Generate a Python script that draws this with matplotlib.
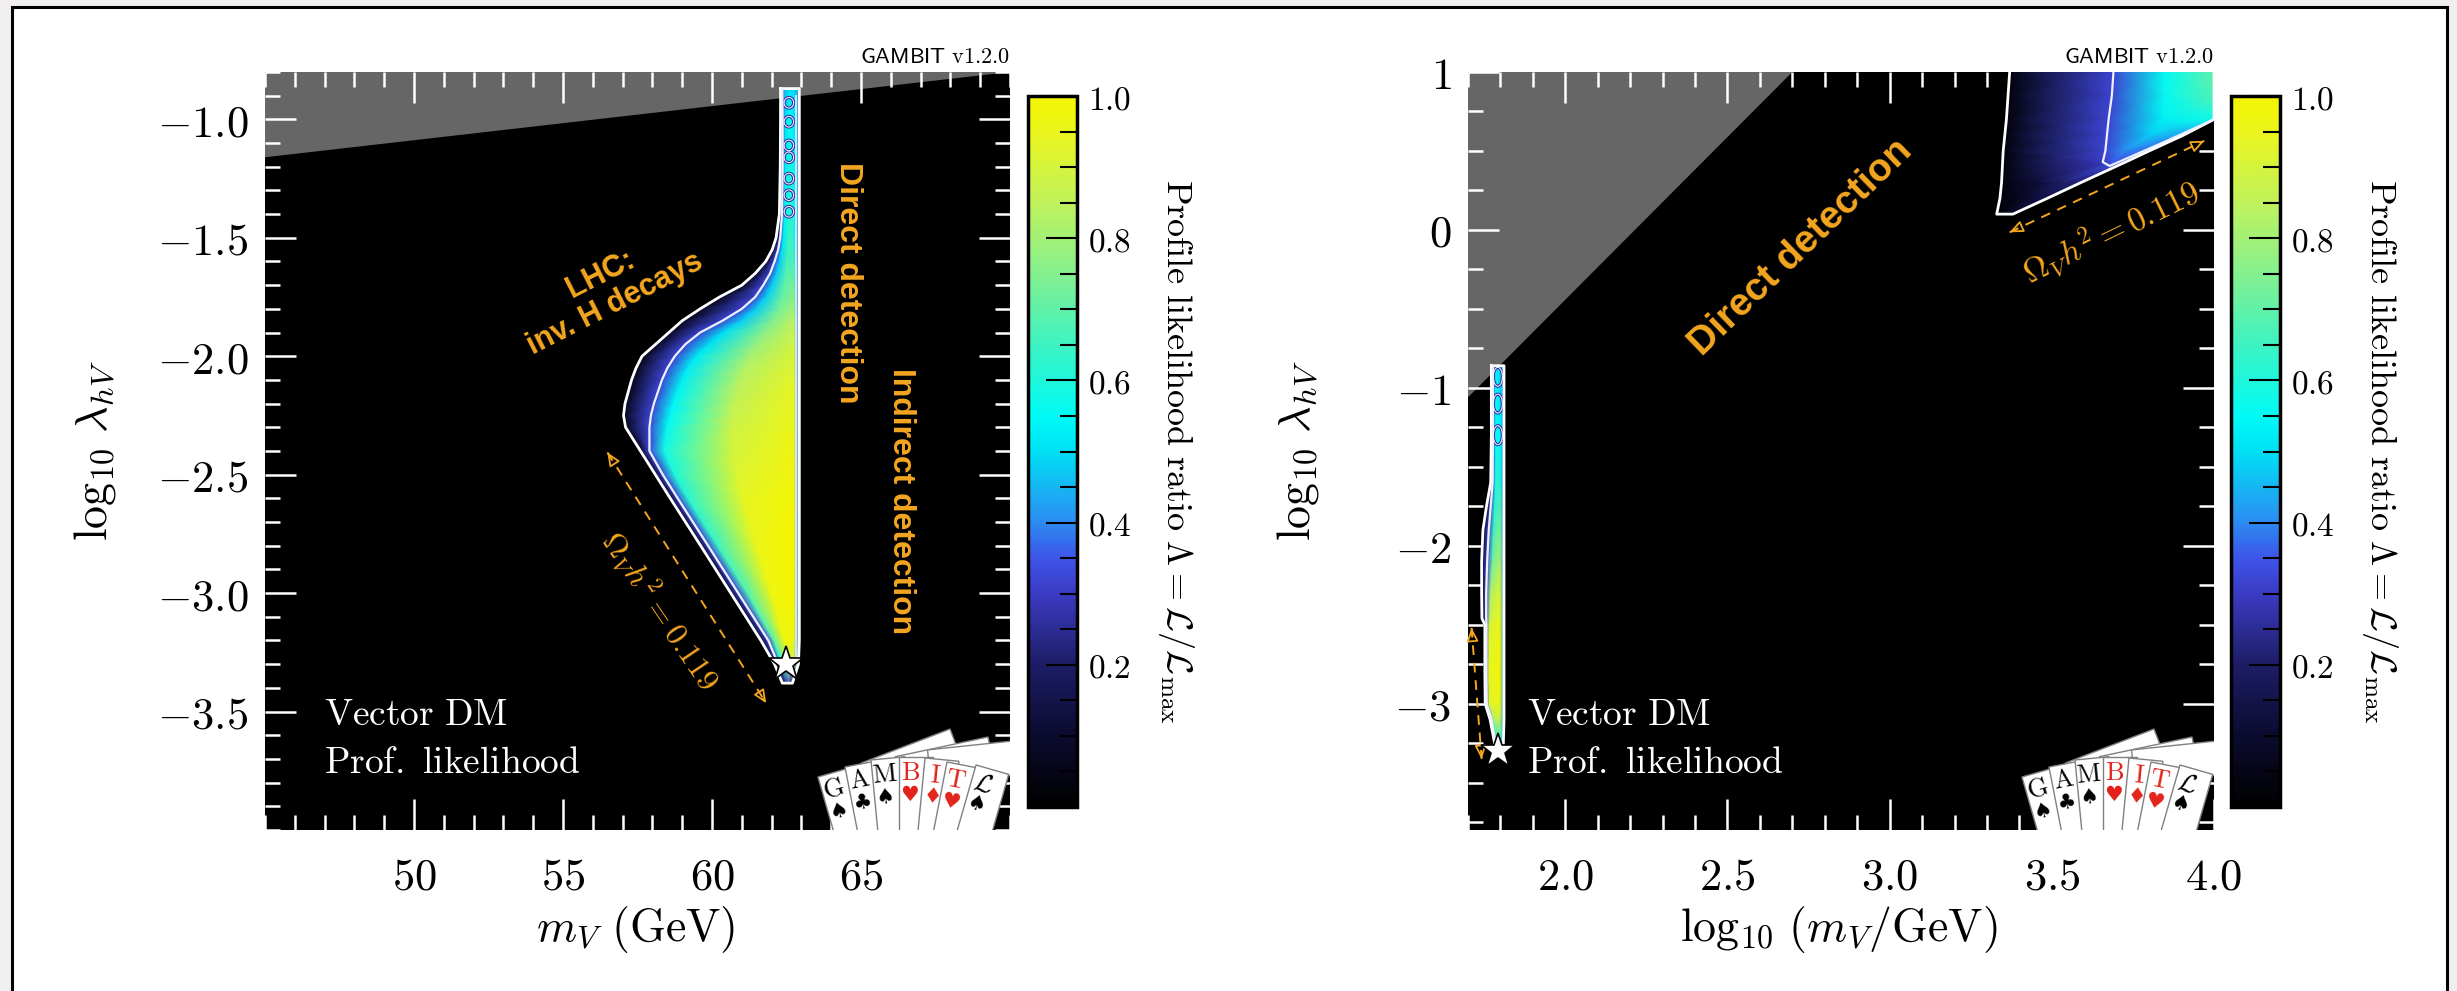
import numpy as np
import matplotlib
matplotlib.use('Agg')
import matplotlib.pyplot as plt
import matplotlib.cm as cm
from matplotlib.colors import LinearSegmentedColormap, Normalize
from matplotlib.patches import Polygon, Rectangle, Ellipse
from matplotlib.ticker import MultipleLocator, FixedLocator, FuncFormatter
from matplotlib.transforms import Affine2D

plt.rcParams['mathtext.fontset'] = 'cm'
plt.rcParams['font.family'] = ['DejaVu Sans']

W, H, DPI = 2457, 991, 100
orange = '#f4a620'

# colour scale of the profile likelihood ratio
cmap_pos = [0.0, 0.1, 0.2, 0.3, 0.35, 0.4, 0.5, 0.55, 0.65, 0.75, 0.85, 0.95, 1.0]
cmap_col = ['#000000', '#0b0b30', '#1d1d66', '#3b3bc4', '#3d55e8', '#2b8cf2',
            '#00e0f4', '#00fbf6', '#3cf3c2', '#84f090', '#bff25c', '#eaf51e', '#f5f500']

# ---- left panel: m_V (GeV) vs log10 lambda_hV ----
left_rows = [-0.87, -1.0, -1.2, -1.4, -1.5, -1.55, -1.6, -1.65, -1.7, -1.75, -1.8, -1.85,
             -1.9, -1.95, -2.0, -2.05, -2.1, -2.2, -2.25, -2.3, -2.4, -2.5, -2.6, -2.8,
             -3.0, -3.2, -3.3, -3.38]
left_mass = [
    [62.30, 62.36, 62.45, 62.60, 62.75, 62.93],
    [62.30, 62.37, 62.46, 62.60, 62.75, 62.93],
    [62.29, 62.37, 62.46, 62.60, 62.75, 62.93],
    [62.26, 62.35, 62.45, 62.60, 62.75, 62.93],
    [62.15, 62.29, 62.40, 62.58, 62.75, 62.93],
    [62.02, 62.22, 62.35, 62.55, 62.75, 62.93],
    [61.80, 62.10, 62.28, 62.52, 62.75, 62.93],
    [61.45, 61.95, 62.18, 62.48, 62.75, 62.93],
    [61.00, 61.72, 62.02, 62.42, 62.75, 62.93],
    [60.25, 61.45, 61.82, 62.35, 62.75, 62.93],
    [59.60, 61.00, 61.50, 62.25, 62.75, 62.93],
    [59.00, 60.35, 61.00, 62.05, 62.75, 62.93],
    [58.55, 59.60, 60.40, 61.80, 62.75, 62.93],
    [58.10, 59.10, 59.90, 61.55, 62.75, 62.93],
    [57.65, 58.75, 59.50, 61.30, 62.75, 62.93],
    [57.45, 58.50, 59.20, 61.10, 62.75, 62.93],
    [57.30, 58.32, 59.00, 60.95, 62.75, 62.93],
    [57.08, 58.05, 58.70, 60.75, 62.75, 62.93],
    [57.03, 57.95, 58.60, 60.70, 62.75, 62.93],
    [57.10, 57.90, 58.50, 60.65, 62.75, 62.93],
    [57.60, 57.90, 58.40, 60.70, 62.75, 62.93],
    [58.10, 58.35, 58.75, 60.85, 62.75, 62.93],
    [58.60, 58.85, 59.20, 61.05, 62.75, 62.93],
    [59.62, 59.87, 60.20, 61.50, 62.75, 62.93],
    [60.63, 60.88, 61.20, 62.00, 62.75, 62.93],
    [61.64, 61.89, 62.08, 62.42, 62.75, 62.93],
    [62.10, 62.22, 62.35, 62.55, 62.75, 62.90],
    [62.36, 62.42, 62.48, 62.56, 62.64, 62.70],
]
left_ratio = [
    [0.05, 0.32, 0.45, 0.50, 0.50, 0.40],
    [0.05, 0.32, 0.50, 0.55, 0.52, 0.40],
    [0.05, 0.32, 0.52, 0.60, 0.55, 0.40],
    [0.05, 0.32, 0.55, 0.62, 0.58, 0.40],
    [0.05, 0.32, 0.52, 0.65, 0.62, 0.40],
    [0.05, 0.32, 0.50, 0.66, 0.64, 0.40],
    [0.05, 0.32, 0.48, 0.67, 0.66, 0.40],
    [0.05, 0.32, 0.48, 0.68, 0.70, 0.42],
    [0.05, 0.32, 0.48, 0.70, 0.73, 0.42],
    [0.05, 0.32, 0.48, 0.71, 0.76, 0.42],
    [0.05, 0.32, 0.48, 0.73, 0.80, 0.42],
    [0.05, 0.32, 0.48, 0.75, 0.84, 0.42],
    [0.05, 0.32, 0.50, 0.77, 0.87, 0.42],
    [0.05, 0.32, 0.50, 0.79, 0.89, 0.42],
    [0.05, 0.32, 0.52, 0.81, 0.91, 0.42],
    [0.05, 0.32, 0.52, 0.83, 0.92, 0.42],
    [0.05, 0.32, 0.53, 0.84, 0.93, 0.42],
    [0.05, 0.32, 0.54, 0.86, 0.95, 0.42],
    [0.05, 0.32, 0.55, 0.87, 0.95, 0.42],
    [0.05, 0.32, 0.56, 0.88, 0.96, 0.42],
    [0.05, 0.32, 0.58, 0.90, 0.97, 0.42],
    [0.05, 0.32, 0.60, 0.92, 0.98, 0.42],
    [0.05, 0.32, 0.62, 0.94, 0.99, 0.42],
    [0.05, 0.32, 0.65, 0.96, 1.00, 0.42],
    [0.05, 0.32, 0.68, 0.97, 1.00, 0.42],
    [0.05, 0.32, 0.70, 0.97, 0.98, 0.42],
    [0.05, 0.32, 0.60, 0.88, 0.85, 0.40],
    [0.05, 0.15, 0.25, 0.35, 0.25, 0.05],
]
left_inner_edge = 62.83
left_strip_rings = [-0.93, -1.01, -1.11, -1.16, -1.25, -1.32, -1.39]
left_grey = [(45.0, -0.8), (45.0, -1.16), (70.0, -0.8)]
left_best = (62.47, -3.30)
left_relic_arrow = [(56.49, -2.406), (61.82, -3.465)]

# ---- right panel: log10(m_V/GeV) vs log10 lambda_hV ----
right_top_rows = [1.0, 0.85, 0.70, 0.60, 0.50, 0.42, 0.30, 0.20, 0.10]
right_top_mass = [
    [3.370, 3.690, 3.850, 4.000],
    [3.365, 3.685, 3.850, 4.000],
    [3.360, 3.675, 3.840, 4.000],
    [3.355, 3.670, 3.800, 3.906],
    [3.350, 3.665, 3.720, 3.800],
    [3.348, 3.660, 3.680, 3.717],
    [3.345, 3.460, 3.530, 3.590],
    [3.340, 3.390, 3.440, 3.486],
    [3.330, 3.345, 3.360, 3.380],
]
right_top_ratio = [
    [0.03, 0.32, 0.56, 0.70],
    [0.03, 0.32, 0.56, 0.68],
    [0.03, 0.32, 0.53, 0.58],
    [0.03, 0.32, 0.48, 0.42],
    [0.03, 0.32, 0.40, 0.36],
    [0.03, 0.30, 0.34, 0.32],
    [0.03, 0.12, 0.20, 0.22],
    [0.03, 0.06, 0.12, 0.15],
    [0.03, 0.04, 0.06, 0.08],
]
right_top_inner = [(3.690, 1.0), (3.685, 0.85), (3.675, 0.70), (3.670, 0.60), (3.665, 0.50),
                   (3.657, 0.43), (3.678, 0.405), (3.85, 0.56), (4.0, 0.70)]

right_strip_rows = [-0.86, -1.0, -1.3, -1.6, -1.75, -1.9, -2.1, -2.3, -2.46, -2.5, -2.8,
                    -3.0, -3.1, -3.25, -3.34]
right_strip_mass = [
    [1.772, 1.777, 1.785, 1.797, 1.811],
    [1.772, 1.777, 1.786, 1.798, 1.811],
    [1.772, 1.777, 1.786, 1.798, 1.811],
    [1.770, 1.776, 1.786, 1.798, 1.811],
    [1.757, 1.770, 1.783, 1.798, 1.811],
    [1.746, 1.764, 1.780, 1.798, 1.811],
    [1.742, 1.759, 1.776, 1.798, 1.811],
    [1.742, 1.756, 1.770, 1.798, 1.811],
    [1.743, 1.756, 1.768, 1.798, 1.811],
    [1.752, 1.757, 1.766, 1.798, 1.811],
    [1.752, 1.757, 1.765, 1.798, 1.811],
    [1.753, 1.758, 1.766, 1.798, 1.811],
    [1.768, 1.773, 1.779, 1.798, 1.811],
    [1.782, 1.785, 1.790, 1.800, 1.809],
    [1.787, 1.789, 1.792, 1.796, 1.800],
]
right_strip_ratio = [
    [0.05, 0.32, 0.50, 0.50, 0.40],
    [0.05, 0.32, 0.55, 0.50, 0.40],
    [0.05, 0.32, 0.55, 0.55, 0.40],
    [0.05, 0.32, 0.60, 0.62, 0.40],
    [0.05, 0.32, 0.62, 0.68, 0.42],
    [0.05, 0.32, 0.66, 0.74, 0.42],
    [0.05, 0.32, 0.72, 0.82, 0.42],
    [0.05, 0.32, 0.82, 0.92, 0.42],
    [0.05, 0.32, 0.87, 0.96, 0.42],
    [0.05, 0.32, 0.90, 0.97, 0.42],
    [0.05, 0.32, 0.94, 0.99, 0.42],
    [0.05, 0.32, 0.92, 0.97, 0.42],
    [0.05, 0.32, 0.82, 0.88, 0.42],
    [0.05, 0.32, 0.60, 0.60, 0.40],
    [0.05, 0.15, 0.25, 0.25, 0.05],
]
right_strip_rings = [-0.93, -1.10, -1.30]
right_grey = [(1.7, 1.0), (1.7, -1.06), (2.70, 1.0)]
right_best = (1.793, -3.30)
right_relic_arrow_top = [(3.37, -0.015), (3.97, 0.564)]
right_relic_arrow_left = [(1.711, -2.52), (1.742, -3.35)]

cbar_ticks = [0.2, 0.4, 0.6, 0.8, 1.0]

# GAMBIT logo cards (positions in logo pixels)
card_letters = [r'$\mathrm{G}$', r'$\mathrm{A}$', r'$\mathrm{M}$', r'$\mathrm{B}$',
                r'$\mathrm{I}$', r'$\mathrm{T}$', r'$\mathcal{L}$']
card_suits = ['\u2660', '\u2663', '\u2660', '\u2665', '\u2666', '\u2665', '\u2660']
card_red = [False, False, False, True, True, True, False]
card_angles = [16, 11, 5.5, 0, -5.5, -11, -16]
card_corners = [(8, 53), (35, 63), (61, 70), (89, 73), (115, 72), (137, 68), (166, 65)]
back_corners = [(140, 101), (178, 93), (212, 90)]
back_angles = [-69, -78, -84]

cmap = LinearSegmentedColormap.from_list('gambit', list(zip(cmap_pos, cmap_col)))
norm = Normalize(0, 1)

fig = plt.figure(figsize=(W / DPI, H / DPI), dpi=DPI, facecolor='#f0eeee')
fig.add_artist(Rectangle((12 / W, -0.05), (2447 - 12) / W, 1.05 - 7 / H,
                         transform=fig.transFigure, facecolor='white',
                         edgecolor='black', linewidth=2.2, zorder=-10))

ax1 = fig.add_axes([265 / W, 1 - 830 / H, 745 / W, 758 / H])
cax1 = fig.add_axes([1028 / W, 1 - 807 / H, 49 / W, 711 / H])
ax2 = fig.add_axes([1468 / W, 1 - 830 / H, 746 / W, 758 / H])
cax2 = fig.add_axes([2231 / W, 1 - 807 / H, 49 / W, 711 / H])


def style_axes(ax, xfmt, yfmt):
    ax.set_facecolor('black')
    for s in ax.spines.values():
        s.set_visible(False)
    ax.tick_params(which='both', direction='in', color='white', top=True, right=True,
                   labelcolor='black', labelsize=32)
    ax.tick_params(which='major', length=22, width=1.8)
    ax.tick_params(which='minor', length=11, width=1.8)
    ax.tick_params(axis='x', pad=18)
    ax.tick_params(axis='y', pad=12)
    ax.xaxis.set_major_formatter(FuncFormatter(xfmt))
    ax.yaxis.set_major_formatter(FuncFormatter(yfmt))


def draw_region(ax, rows, mass, ratio, closed=True, inner=True):
    X = np.asarray(mass)
    Y = np.repeat(np.asarray(rows)[:, None], X.shape[1], axis=1)
    ax.pcolormesh(X, Y, np.asarray(ratio), shading='gouraud', cmap=cmap, norm=norm, zorder=2)
    ox = np.r_[X[:, 0], X[::-1, -1]]
    oy = np.r_[rows, rows[::-1]]
    if closed:
        ox = np.r_[ox, ox[0]]
        oy = np.r_[oy, oy[0]]
    ax.plot(ox, oy, color='white', lw=2.0, zorder=3)
    if inner:
        ax.plot(X[:-1, 1], rows[:-1], color='#eef0ff', lw=1.6, zorder=3)


def draw_rings(ax, xc, ys, w, h):
    for y in ys:
        ax.add_patch(Ellipse((xc, y), w, h, fc='none', ec='#2a2a9a', lw=2.2, zorder=2.6))
        ax.add_patch(Ellipse((xc, y), w, h, fc='none', ec='#e8ecff', lw=0.8, zorder=2.7))


def draw_arrow(ax, pts):
    (x0, y0), (x1, y1) = pts
    ax.plot([x0, x1], [y0, y1], color=orange, lw=1.4, ls=(0, (5, 4)), zorder=4)
    for (ax_, ay_), (bx, by) in [((x0, y0), (x1, y1)), ((x1, y1), (x0, y0))]:
        ax.annotate('', xy=(bx, by), xytext=(bx + 0.02 * (ax_ - bx), by + 0.02 * (ay_ - by)),
                    arrowprops=dict(arrowstyle='-|>,head_length=0.8,head_width=0.35',
                                    ec=orange, fc='none', lw=1.3, shrinkA=0, shrinkB=0),
                    zorder=4)


def draw_logo(ax, ax_w, ax_h):
    lax = ax.inset_axes([1 - 200 / ax_w, 0, 200 / ax_w, 105 / ax_h])
    lax.set_xlim(0, 200)
    lax.set_ylim(0, 105)
    lax.axis('off')
    for (x, y), ang in zip(back_corners, back_angles):
        tr = Affine2D().rotate_deg_around(x, y, ang) + lax.transData
        lax.add_patch(Rectangle((x, y - 95), 34, 95, transform=tr, fc='white',
                                ec='#808080', lw=1.0))
    for (x, y), ang, let, suit, red in zip(card_corners, card_angles, card_letters,
                                           card_suits, card_red):
        tr = Affine2D().rotate_deg_around(x, y, ang) + lax.transData
        lax.add_patch(Rectangle((x, y - 80), 34, 80, transform=tr, fc='white',
                                ec='#808080', lw=1.0))
        col = '#e3231b' if red else 'black'
        lax.text(x + 12, y - 16, let, transform=tr, rotation=ang, ha='center',
                 va='center', fontsize=19, color=col)
        lax.text(x + 11, y - 38, suit, transform=tr, rotation=ang, ha='center',
                 va='center', fontsize=15, color=col, family='DejaVu Sans')


def draw_colorbar(cax, label_x):
    cb = fig.colorbar(cm.ScalarMappable(norm=norm, cmap=cmap), cax=cax)
    cb.set_ticks(cbar_ticks)
    cax.yaxis.set_major_formatter(FuncFormatter(lambda v, p: f'${v:.1f}$'))
    cax.yaxis.set_minor_locator(MultipleLocator(0.05))
    cax.tick_params(which='both', direction='in', color='black', right=True, left=False,
                    labelsize=24, pad=8)
    cax.tick_params(which='major', length=22, width=1.5)
    cax.tick_params(which='minor', length=12, width=1.5)
    cb.outline.set_linewidth(2.5)
    fig.text(label_x / W, 1 - 451.5 / H,
             r'$\mathrm{Profile\ likelihood\ ratio}\ \Lambda = \mathcal{L}/\mathcal{L}_\mathrm{max}$',
             rotation=-90, ha='center', va='center', fontsize=26)


def panel_labels(ax):
    ax.text(0.079, 0.1385, r'$\mathrm{Vector\ DM}$', transform=ax.transAxes, color='white',
            fontsize=27, va='baseline', zorder=6)
    ax.text(0.079, 0.075, r'$\mathrm{Prof.\ likelihood}$', transform=ax.transAxes,
            color='white', fontsize=27, va='baseline', zorder=6)
    ax.text(1.0, 1.012, r'$\mathsf{GAMBIT}\ \mathrm{v1.2.0}$', transform=ax.transAxes,
            ha='right', va='baseline', fontsize=16)


bold = dict(family='Liberation Sans', fontweight='bold', color=orange, ha='center',
            va='center', rotation_mode='anchor', zorder=6)

# ---- left panel ----
style_axes(ax1, lambda v, p: f'${v:.0f}$', lambda v, p: f'${v:.1f}$')
ax1.set_xlim(45, 70)
ax1.set_ylim(-4.0, -0.8)
ax1.xaxis.set_major_locator(FixedLocator([50, 55, 60, 65]))
ax1.xaxis.set_minor_locator(MultipleLocator(1))
ax1.yaxis.set_major_locator(FixedLocator([-3.5, -3.0, -2.5, -2.0, -1.5, -1.0]))
ax1.yaxis.set_minor_locator(MultipleLocator(0.1))
ax1.add_patch(Polygon(left_grey, closed=True, fc='#666666', ec='none', zorder=1))
draw_region(ax1, np.asarray(left_rows), left_mass, left_ratio)
draw_rings(ax1, 62.58, left_strip_rings, 0.32, 0.045)
ax1.plot([left_inner_edge, left_inner_edge], [left_rows[-2], left_rows[0] - 0.03],
         color='#dfe4ff', lw=1.3, zorder=3)
ax1.plot(*left_best, marker='*', ms=26, mfc='white', mec='black', mew=1.2, zorder=5)
draw_arrow(ax1, left_relic_arrow)
ax1.text(56.51, -1.716, 'LHC:\ninv. H decays', rotation=27, fontsize=22,
         multialignment='center', linespacing=1.15, **bold)
ax1.text(64.56, -1.69, 'Direct detection', rotation=-90, fontsize=23, **bold)
ax1.text(66.35, -2.61, 'Indirect detection', rotation=-90, fontsize=23, **bold)
ax1.text(58.24, -3.075, r'$\Omega_V h^2 = 0.119$', rotation=-56, fontsize=23, color=orange,
         ha='center', va='center', rotation_mode='anchor', zorder=6)
ax1.set_xlabel(r'$m_V\ \mathrm{(GeV)}$', fontsize=33)
ax1.set_ylabel(r'$\log_{10}\,\lambda_{hV}$', fontsize=33)
ax1.xaxis.set_label_coords(0.497, -0.097)
ax1.yaxis.set_label_coords(-0.197, 0.5)
panel_labels(ax1)
draw_logo(ax1, 745, 758)
draw_colorbar(cax1, 1176)

# ---- right panel ----
style_axes(ax2, lambda v, p: f'${v:.1f}$', lambda v, p: f'${int(round(v)):d}$')
ax2.set_xlim(1.7, 4.0)
ax2.set_ylim(-3.8, 1.0)
ax2.xaxis.set_major_locator(FixedLocator([2.0, 2.5, 3.0, 3.5, 4.0]))
ax2.xaxis.set_minor_locator(MultipleLocator(0.1))
ax2.yaxis.set_major_locator(FixedLocator([-3, -2, -1, 0, 1]))
ax2.yaxis.set_minor_locator(MultipleLocator(0.25))
ax2.add_patch(Polygon(right_grey, closed=True, fc='#666666', ec='none', zorder=1))
draw_region(ax2, np.asarray(right_top_rows), right_top_mass, right_top_ratio,
            closed=False, inner=False)
ax2.plot(*zip(*right_top_inner), color='#eef0ff', lw=1.6, zorder=3)
draw_region(ax2, np.asarray(right_strip_rows), right_strip_mass, right_strip_ratio)
draw_rings(ax2, 1.792, right_strip_rings, 0.028, 0.12)
ax2.plot(*right_best, marker='*', ms=26, mfc='white', mec='black', mew=1.2, zorder=5)
draw_arrow(ax2, right_relic_arrow_top)
draw_arrow(ax2, right_relic_arrow_left)
ax2.text(2.726, -0.11, 'Direct detection', rotation=44, fontsize=28, **bold)
ax2.text(3.684, -0.023, r'$\Omega_V h^2 = 0.119$', rotation=26, fontsize=24, color=orange,
         ha='center', va='center', rotation_mode='anchor', zorder=6)
ax2.set_xlabel(r'$\log_{10}\,(m_V/\mathrm{GeV})$', fontsize=33)
ax2.set_ylabel(r'$\log_{10}\,\lambda_{hV}$', fontsize=33)
ax2.xaxis.set_label_coords(0.497, -0.097)
ax2.yaxis.set_label_coords(-0.197, 0.5)
panel_labels(ax2)
draw_logo(ax2, 746, 758)
draw_colorbar(cax2, 2380)

fig.savefig('out.png', dpi=DPI, facecolor=fig.get_facecolor())
